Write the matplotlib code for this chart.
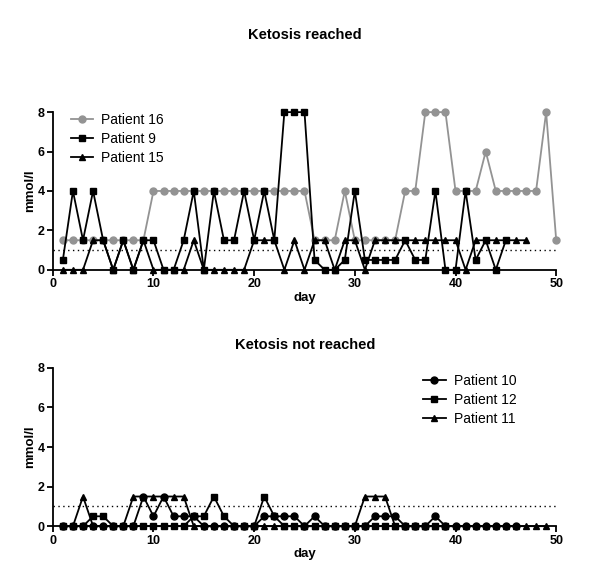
import matplotlib
matplotlib.use("Agg")
import matplotlib.pyplot as plt

plt.rcParams['font.family'] = ['Liberation Sans', 'DejaVu Sans']

# ---------- data (mmol/l per day) ----------
# Ketosis reached
p16 = [1.5] * 9 + [4] * 16 + [1.5, 1.5, 1.5, 4, 1.5, 1.5, 1.5, 1.5, 1.5,
                              4, 4, 8, 8, 8, 4, 4, 4, 6, 4, 4, 4, 4, 4, 8, 1.5]
p9 = [0.5, 4, 1.5, 4, 1.5, 0, 1.5, 0, 1.5, 1.5,
      0, 0, 1.5, 4, 0, 4, 1.5, 1.5, 4, 1.5,
      4, 1.5, 8, 8, 8, 0.5, 0, 0, 0.5, 4,
      0.5, 0.5, 0.5, 0.5, 1.5, 0.5, 0.5, 4, 0, 0,
      4, 0.5, 1.5, 0, 1.5]
p15 = [0, 0, 0, 1.5, 1.5, 0, 1.5, 0, 1.5, 0,
       0, 0, 0, 1.5, 0, 0, 0, 0, 0, 1.5,
       1.5, 1.5, 0, 1.5, 0, 1.5, 1.5, 0, 1.5, 1.5,
       0, 1.5, 1.5, 1.5, 1.5, 1.5, 1.5, 1.5, 1.5, 1.5,
       0, 1.5, 1.5, 1.5, 1.5, 1.5, 1.5]

# Ketosis not reached
p10 = ([0] * 8 + [1.5, 0.5, 1.5, 0.5, 0.5, 0.5, 0] + [0] * 5
       + [0.5, 0.5, 0.5, 0.5, 0, 0.5] + [0] * 5 + [0.5, 0.5, 0.5]
       + [0] * 3 + [0.5] + [0] * 8)
p12 = ([0, 0, 0, 0.5, 0.5] + [0] * 8 + [0.5, 0.5, 1.5, 0.5, 0, 0, 0,
                                       1.5, 0.5] + [0] * 17)
p11 = ([0, 0, 1.5, 0, 0, 0, 0] + [1.5] * 6 + [0] * 17 + [1.5] * 3 + [0] * 16)

GRAY = '#939393'


def days(vals):
    return list(range(1, len(vals) + 1))


def style_axes(ax):
    ax.set_xlim(0, 50)
    ax.set_ylim(0, 8)
    ax.set_xticks([0, 10, 20, 30, 40, 50])
    ax.set_yticks([0, 2, 4, 6, 8])
    ax.spines['top'].set_visible(False)
    ax.spines['right'].set_visible(False)
    for s in ['left', 'bottom']:
        ax.spines[s].set_linewidth(1.3)
    ax.tick_params(direction='out', length=4, width=1.3, labelsize=9, pad=2)
    for lab in ax.get_xticklabels() + ax.get_yticklabels():
        lab.set_fontweight('bold')
    ax.axhline(1, color='black', ls=(0, (1, 2.5)), lw=1, zorder=1)
    ax.set_xlabel('day', fontsize=9.5, fontweight='bold', labelpad=1)
    ax.set_ylabel('mmol/l', fontsize=9.5, fontweight='bold', labelpad=1)


fig = plt.figure(figsize=(6.0, 5.84), dpi=100)
ax1 = fig.add_axes([0.088, 0.538, 0.839, 0.270])
ax2 = fig.add_axes([0.088, 0.099, 0.839, 0.271])

kw = dict(lw=1.3, ms=5, clip_on=False, zorder=3)
leg_kw = dict(frameon=False, fontsize=10, handlelength=1.6, handletextpad=0.6,
              labelspacing=0.35, borderaxespad=0)

ax1.plot(days(p16), p16, '-o', color=GRAY, mec=GRAY, mfc=GRAY, label='Patient 16', **kw)
ax1.plot(days(p9), p9, '-s', color='black', label='Patient 9', **kw)
ax1.plot(days(p15), p15, '-^', color='black', label='Patient 15', **kw)
style_axes(ax1)
ax1.legend(loc='upper left', bbox_to_anchor=(0.025, 1.03), **leg_kw)

ax2.plot(days(p10), p10, '-o', color='black', label='Patient 10', **kw)
ax2.plot(days(p12), p12, '-s', color='black', label='Patient 12', **kw)
ax2.plot(days(p11), p11, '-^', color='black', label='Patient 11', **kw)
style_axes(ax2)
ax2.legend(loc='upper left', bbox_to_anchor=(0.725, 0.995), **leg_kw)

fig.text(0.508, 1 - 35 / 584, 'Ketosis reached', ha='center', va='center',
         fontsize=10.5, fontweight='bold')
fig.text(0.508, 1 - 345 / 584, 'Ketosis not reached', ha='center', va='center',
         fontsize=10.5, fontweight='bold')

fig.savefig('out.png', dpi=100)
